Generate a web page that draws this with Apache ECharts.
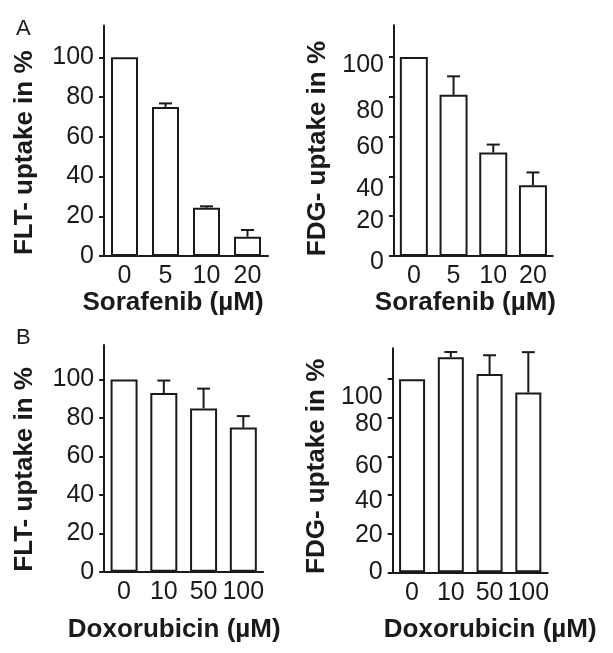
<!DOCTYPE html>
<html><head><meta charset="utf-8">
<script src="https://cdn.jsdelivr.net/npm/echarts@6/dist/echarts.min.js"></script>
<style>html,body{margin:0;padding:0;background:#fff}#c{width:613px;height:653px}</style>
</head><body><div id="c"></div>
<script>
// ---- data ----
const sorafenibDoses = ['0', '5', '10', '20'];
const doxorubicinDoses = ['0', '10', '50', '100'];
const fltSorafenib = [100, 75, 24.3, 9.7];
const fltSorafenibSD = [0, 1.8, 0.7, 3.4];
const fdgSorafenib = [100, 81, 52, 35.5];
const fdgSorafenibSD = [0, 9.3, 4, 6.5];
const fltDoxorubicin = [100, 93, 85, 75];
const fltDoxorubicinSD = [0, 6.5, 10.3, 6];
const fdgDoxorubicin = [100, 111.4, 102.7, 93.1];
const fdgDoxorubicinSD = [0, 2.7, 9.7, 20.9];
const yTicks = [0, 20, 40, 60, 80, 100];
const yTitleFLT = 'FLT- uptake in %';
const yTitleFDG = 'FDG- uptake in %';
const xTitleSora = 'Sorafenib (µM)';
const xTitleDoxo = 'Doxorubicin (µM)';
const panelLetters = ['A', 'B'];

// ---- layout / style ----
const FONT = "'Liberation Sans', Arial, sans-serif";
const INK = '#1a1a1a';
const panels = [
  {grid: {left: 104, top: 25.5, width: 164, height: 230.5}, max: 116, cats: sorafenibDoses,
   vals: fltSorafenib, sd: fltSorafenibSD, yName: yTitleFLT, xName: xTitleSora, barW: 27,
   yShift: 12, xShift: -13, xGap: 34, yGap: 66, labOff: null},
  {grid: {left: 394, top: 25.2, width: 158.8, height: 230.8}, max: 116, cats: sorafenibDoses,
   vals: fdgSorafenib, sd: fdgSorafenibSD, yName: yTitleFDG, xName: xTitleSora, barW: 28,
   yShift: 8, xShift: -8, xGap: 34, yGap: 63, labOff: {0: 6, 20: 5, 40: 13, 60: 10, 80: 14, 100: 8}},
  {grid: {left: 104.2, top: 345, width: 159, height: 226.7}, max: 118, cats: doxorubicinDoses,
   vals: fltDoxorubicin, sd: fltDoxorubicinSD, yName: yTitleFLT, xName: xTitleDoxo, barW: 27,
   yShift: 11, xShift: -9.5, xGap: 45, yGap: 66, labOff: null},
  {grid: {left: 392.7, top: 348.3, width: 155, height: 224}, max: 116, cats: doxorubicinDoses,
   vals: fdgDoxorubicin, sd: fdgDoxorubicinSD, yName: yTitleFDG, xName: xTitleDoxo, barW: 26,
   yShift: 6, xShift: 20, xGap: 45, yGap: 63, labOff: {0: 0, 20: 1, 40: 6, 60: 10, 80: 6, 100: 18}}
];

// shift centred text along its reading direction (positive = towards its end)
function padShift(s) {
  return s >= 0 ? [0, 0, 0, 2 * s] : [0, -2 * s, 0, 0];
}

const grids = [], xAxes = [], yAxes = [], series = [];
panels.forEach((p, i) => {
  grids.push(Object.assign({containLabel: false}, p.grid));
  xAxes.push({
    type: 'category', gridIndex: i, data: p.cats,
    axisLine: {lineStyle: {color: INK, width: 2}},
    axisTick: {alignWithLabel: true, length: 9, lineStyle: {color: INK, width: 2}},
    axisLabel: {fontFamily: FONT, fontSize: 25, color: INK, margin: 8, interval: 0, hideOverlap: false},
    name: p.xName, nameLocation: 'middle', nameGap: p.xGap,
    nameTextStyle: {fontFamily: FONT, fontSize: 26, fontWeight: 'bold', color: INK, padding: padShift(p.xShift)}
  });
  const lab = {fontFamily: FONT, fontSize: 25, color: INK, margin: 10, customValues: yTicks};
  if (p.labOff) {
    const rich = {};
    Object.values(p.labOff).forEach(d => {
      rich['o' + d] = {fontFamily: FONT, fontSize: 25, color: INK, padding: [2 * d, 0, 0, 0]};
    });
    lab.rich = rich;
    lab.formatter = v => '{o' + p.labOff[v] + '|' + v + '}';
  }
  yAxes.push({
    type: 'value', gridIndex: i, min: 0, max: p.max,
    axisLine: {show: true, lineStyle: {color: INK, width: 2}},
    axisTick: {show: true, length: 5, customValues: yTicks, lineStyle: {color: INK, width: 2}},
    splitLine: {show: false},
    axisLabel: lab,
    name: p.yName, nameLocation: 'middle', nameRotate: 90, nameGap: p.yGap,
    nameTextStyle: {fontFamily: FONT, fontSize: 26, fontWeight: 'bold', color: INK, padding: padShift(-p.yShift)}
  });
  series.push({
    type: 'bar', xAxisIndex: i, yAxisIndex: i, data: p.vals, barWidth: p.barW,
    itemStyle: {color: '#fff', borderColor: INK, borderWidth: 2},
    silent: true
  });
  series.push({
    type: 'custom', xAxisIndex: i, yAxisIndex: i, z: 5, silent: true,
    data: p.vals.map((v, j) => [j, v, v + p.sd[j]]),
    encode: {x: 0, y: [1, 2]},
    renderItem: (params, api) => {
      const lo = api.coord([api.value(0), api.value(1)]);
      const hi = api.coord([api.value(0), api.value(2)]);
      if (lo[1] - hi[1] < 0.5) return null;
      const st = {stroke: INK, lineWidth: 2, fill: null};
      return {type: 'group', children: [
        {type: 'line', shape: {x1: lo[0], y1: lo[1], x2: hi[0], y2: hi[1]}, style: st},
        {type: 'line', shape: {x1: hi[0] - 6.5, y1: hi[1], x2: hi[0] + 6.5, y2: hi[1]}, style: st}
      ]};
    }
  });
});

const chart = echarts.init(document.getElementById('c'), null, {renderer: 'canvas'});
chart.setOption({
  animation: false,
  backgroundColor: '#fff',
  title: [
    {text: panelLetters[0], left: 11, top: 13, textStyle: {fontFamily: FONT, fontSize: 22, fontWeight: 'normal', color: INK}},
    {text: panelLetters[1], left: 11, top: 322, textStyle: {fontFamily: FONT, fontSize: 22, fontWeight: 'normal', color: INK}}
  ],
  grid: grids, xAxis: xAxes, yAxis: yAxes, series: series
});
</script></body></html>
